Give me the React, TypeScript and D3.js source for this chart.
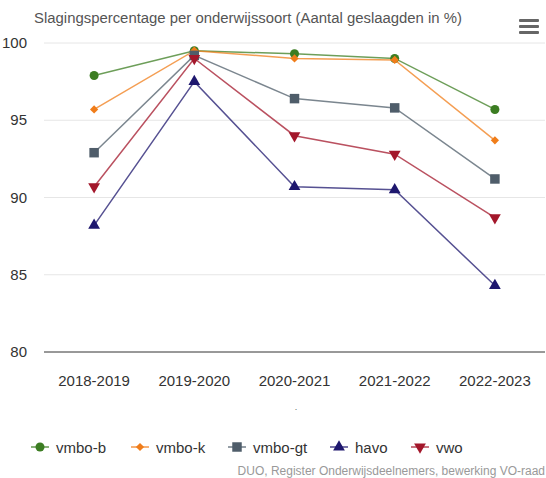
import * as d3 from "d3";

const years = ["2018-2019", "2019-2020", "2020-2021", "2021-2022", "2022-2023"];
const seriesNames = ["vmbo-b", "vmbo-k", "vmbo-gt", "havo", "vwo"];
const vmboB = [97.9, 99.5, 99.3, 99.0, 95.7];
const vmboK = [95.7, 99.5, 99.0, 98.9, 93.7];
const vmboGt = [92.9, 99.2, 96.4, 95.8, 91.2];
const havo = [88.2, 97.5, 90.7, 90.5, 84.3];
const vwo = [90.7, 99.0, 94.0, 92.8, 88.7];
const yTicks = [80, 85, 90, 95, 100];

const colors = ["#3c7d22", "#f07d1a", "#4f5d6a", "#1e176e", "#a3172b"];
const symbols = [d3.symbolCircle, d3.symbolSquare, d3.symbolSquare, d3.symbolTriangle, d3.symbolTriangle];
const symbolSizes = [64, 34, 90, 60, 60];
const rotations = [0, 45, 0, 0, 180];

const W = 546;
const H = 478;
const margin = { top: 43, right: 1, bottom: 126, left: 44 };
const font = "'Liberation Sans', Arial, sans-serif";

export default function App() {
  const data = [vmboB, vmboK, vmboGt, havo, vwo];
  const x = d3.scaleBand().domain(years).range([margin.left, W - margin.right]);
  const y = d3.scaleLinear().domain([80, 100]).range([H - margin.bottom, margin.top]);
  const cx = (i: number) => (x(years[i]) ?? 0) + x.bandwidth() / 2;
  const line = d3
    .line<number>()
    .x((_, i) => cx(i))
    .y((d) => y(d));

  const legendX = [40, 140, 237, 339, 420];

  const marker = (s: number, px: number, py: number, key: string) => (
    <path
      key={key}
      d={d3.symbol(symbols[s], symbolSizes[s])() ?? ""}
      transform={`translate(${px},${py}) rotate(${rotations[s]})`}
      fill={colors[s]}
    />
  );

  return (
    <svg width={W} height={H} style={{ position: "absolute", left: 0, top: 0, fontFamily: font }}>
      <rect width={W} height={H} fill="#fff" />
      <text x={248} y={23} textAnchor="middle" fontSize={14.9} fill="#555">
        Slagingspercentage per onderwijssoort (Aantal geslaagden in %)
      </text>
      <g fill="#666">
        <rect x={519} y={19} width={20} height={3} rx={1} />
        <rect x={519} y={25} width={20} height={3} rx={1} />
        <rect x={519} y={31} width={20} height={3} rx={1} />
      </g>
      {yTicks.map((t) => (
        <g key={t}>
          <line
            x1={margin.left}
            x2={W - margin.right}
            y1={y(t)}
            y2={y(t)}
            stroke={t === 80 ? "#333" : "#e6e6e6"}
            strokeWidth={1}
          />
          <text x={27} y={y(t) + 5} textAnchor="end" fontSize={15} fill="#333">
            {t}
          </text>
        </g>
      ))}
      {years.map((yr, i) => (
        <text key={yr} x={cx(i)} y={386} textAnchor="middle" fontSize={15} fill="#333">
          {yr}
        </text>
      ))}
      <text x={296} y={410} textAnchor="middle" fontSize={9} fill="#666">
        .
      </text>
      {data.map((vals, s) => (
        <g key={seriesNames[s]}>
          <path d={line(vals) ?? ""} fill="none" stroke={colors[s]} strokeOpacity={0.75} strokeWidth={1.5} />
          {vals.map((v, i) => marker(s, cx(i), y(v), `${s}-${i}`))}
        </g>
      ))}
      {seriesNames.map((n, s) => (
        <g key={n}>
          <line
            x1={legendX[s] - 9}
            x2={legendX[s] + 9}
            y1={447}
            y2={447}
            stroke={colors[s]}
            strokeOpacity={0.6}
            strokeWidth={2}
          />
          {marker(s, legendX[s], 447, `l-${s}`)}
          <text x={legendX[s] + 16} y={452.5} fontSize={15} fill="#333">
            {n}
          </text>
        </g>
      ))}
      <text x={545} y={475} textAnchor="end" fontSize={12} fill="#999">
        DUO, Register Onderwijsdeelnemers, bewerking VO-raad
      </text>
    </svg>
  );
}
